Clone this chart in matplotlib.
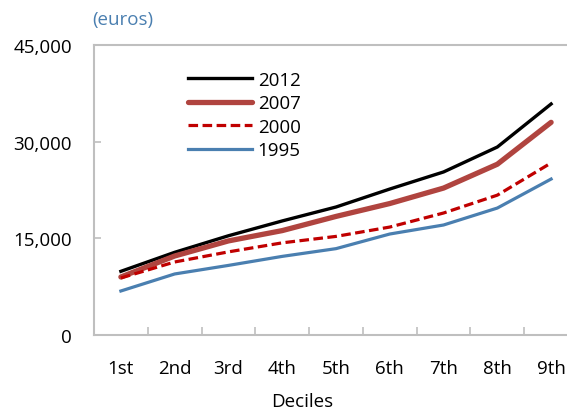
import matplotlib
matplotlib.use("Agg")
import matplotlib.pyplot as plt
from matplotlib.ticker import FuncFormatter

deciles = ["1st", "2nd", "3rd", "4th", "5th", "6th", "7th", "8th", "9th"]
y2012 = [9880, 12830, 15400, 17700, 19860, 22650, 25300, 29170, 35850]
y2007 = [9000, 12260, 14600, 16200, 18400, 20400, 22800, 26500, 33000]
y2000 = [8850, 11330, 12900, 14300, 15300, 16750, 18930, 21700, 26700]
y1995 = [6830, 9470, 10800, 12200, 13400, 15670, 17070, 19700, 24200]
yticks = [0, 15000, 30000, 45000]

plt.rcParams['font.family'] = ['Open Sans', 'DejaVu Sans']
FS = 13.5

fig = plt.figure(figsize=(5.67, 4.10), dpi=100)
ax = fig.add_axes([94/567, (410-336)/410, 484/567, 290/410])

x = list(range(len(deciles)))
ax.plot(x, y2012, color='black', lw=2.4, label='2012')
ax.plot(x, y2007, color='#b0443f', lw=3.8, label='2007', solid_capstyle='round')
ax.plot(x, y2000, color='#c00000', lw=2.3, ls=(0, (3, 1.4)), label='2000')
ax.plot(x, y1995, color='#4a7fb0', lw=2.3, label='1995')

ax.set_xlim(-0.5, len(deciles) - 0.5)
ax.set_ylim(0, 45000)
ax.set_yticks(yticks)
ax.yaxis.set_major_formatter(FuncFormatter(lambda v, p: f"{int(v):,}"))
ax.set_xticks([i + 0.5 for i in range(len(deciles) - 1)])
ax.set_xticklabels([])
ax.set_xticks(x, minor=True)
ax.set_xticklabels(deciles, minor=True)
ax.tick_params(axis='x', which='major', direction='in', length=6, width=1.2, color='#bfbfbf')
ax.tick_params(axis='x', which='minor', length=0, pad=17, labelsize=FS)
ax.tick_params(axis='y', direction='in', length=5, width=1.2, color='#bfbfbf', labelsize=FS, pad=16)

for s in ax.spines.values():
    s.set_color('#bfbfbf')
    s.set_linewidth(1.5)

ax.set_xlabel('Deciles', fontsize=FS, labelpad=8)
ax.xaxis.set_label_coords((302 - 94) / 484, -0.195)

leg = ax.legend(loc='upper left', bbox_to_anchor=(0.16, 0.97), frameon=False,
                fontsize=FS, handlelength=3.4, handletextpad=0.3, labelspacing=0.3)

fig.text(92/567, 1 - 20/410, '(euros)', color='#4a7fb0', fontsize=FS, va='center', ha='left')

fig.savefig('out.png', dpi=100)
